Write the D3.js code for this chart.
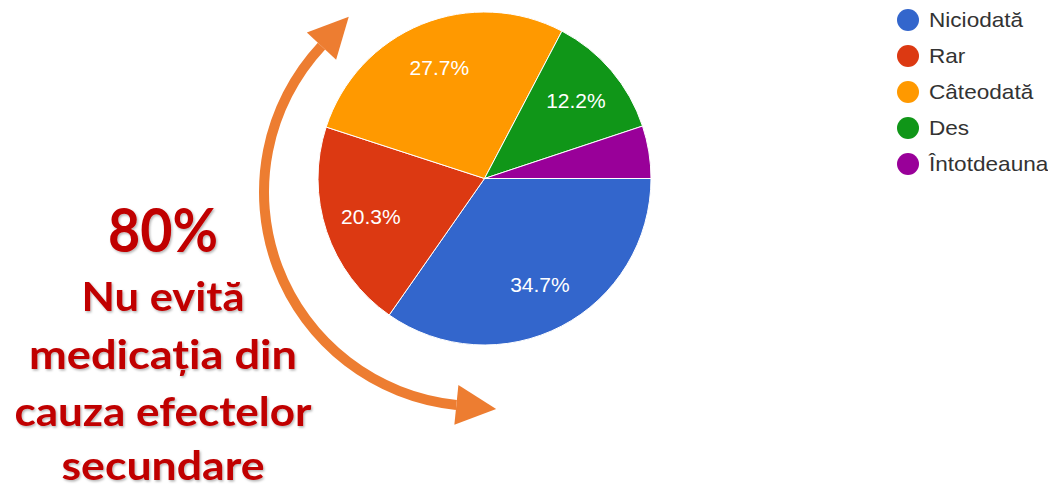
<!DOCTYPE html>
<html lang="ro">

<head>
    <meta charset="UTF-8" />
    <title>Evitarea medicației</title>
    <style>
        body {
            margin: 0;
            background: #fff;
        }

        #container {
            width: 1048px;
            height: 488px;
        }
    </style>
</head>

<body>
    <div id="container"></div>
</body>
<script src="https://cdnjs.cloudflare.com/ajax/libs/d3/7.8.5/d3.min.js"></script>
<script>
    // date
    const categories = ["Niciodată", "Rar", "Câteodată", "Des", "Întotdeauna"];
    const values = [34.7, 20.3, 27.7, 12.2, 5.1];
    const colors = ["#3366cc", "#dc3912", "#ff9900", "#109618", "#990099"];
    const calloutLines = ["80%", "Nu evită", "medicația din", "cauza efectelor", "secundare"];

    const width = 1048, height = 488;
    const cx = 484.5, cy = 178.5, radius = 166.5;

    let svg = d3.select("#container").append("svg")
        .attr("width", width).attr("height", height);

    let defs = svg.append("defs");
    defs.append("filter").attr("id", "shadow")
        .attr("x", "-10%").attr("y", "-10%").attr("width", "120%").attr("height", "130%")
        .append("feDropShadow")
        .attr("dx", 1.2).attr("dy", 1.5).attr("stdDeviation", 1.2)
        .attr("flood-color", "#000").attr("flood-opacity", 0.3);

    let color = d3.scaleOrdinal().domain(categories).range(colors);

    // pie: starts at 3 o'clock, clockwise
    let pie = d3.pie().sort(null)
        .value((d, i) => values[i])
        .startAngle(Math.PI / 2).endAngle(Math.PI / 2 + 2 * Math.PI);
    let arcs = pie(categories);

    let arc = d3.arc().innerRadius(0).outerRadius(radius);
    let labelArc = d3.arc().innerRadius(radius * 0.72).outerRadius(radius * 0.72);

    let g = svg.append("g").attr("transform", `translate(${cx},${cy})`);
    g.selectAll("path").data(arcs).enter().append("path")
        .attr("d", arc)
        .attr("fill", d => color(d.data))
        .attr("stroke", "#fff").attr("stroke-width", 1);

    g.selectAll("text").data(arcs.filter(d => d.value > 8)).enter().append("text")
        .attr("transform", d => `translate(${labelArc.centroid(d)}) scale(1.05,1)`)
        .attr("text-anchor", "middle").attr("dy", "0.36em")
        .style("font-family", "Arial, 'Liberation Sans', sans-serif")
        .style("font-size", "20px").attr("fill", "#fff")
        .text(d => d3.format(".1f")(d.value) + "%");

    // legend
    let legend = svg.append("g").attr("transform", "translate(908,20)");
    let item = legend.selectAll("g").data(categories).enter().append("g")
        .attr("transform", (d, i) => `translate(0,${i * 36})`);
    item.append("circle").attr("r", 11).attr("fill", d => color(d));
    item.append("text").attr("transform", "translate(21,0) scale(1.13,1)").attr("dy", "0.36em")
        .style("font-family", "Arial, 'Liberation Sans', sans-serif")
        .style("font-size", "20px").attr("fill", "#333")
        .text(d => d);

    // orange double arrow around the pie
    const ac = [478, 192], ar = 214;
    const a0 = 185.8 * Math.PI / 180, a1 = 313 * Math.PI / 180;
    svg.append("path")
        .attr("transform", `translate(${ac})`)
        .attr("d", d3.arc().innerRadius(ar - 5).outerRadius(ar + 5).startAngle(a0).endAngle(a1)())
        .attr("fill", "#ed7d31");

    function head(angle, dir) {
        // base centre on the arc, tangent direction
        let bx = ac[0] + ar * Math.sin(angle), by = ac[1] - ar * Math.cos(angle);
        let tx = dir * Math.cos(angle), ty = dir * Math.sin(angle);
        let len = 40, half = 20;
        return [[bx + tx * len, by + ty * len],
                [bx - ty * half, by + tx * half],
                [bx + ty * half, by - tx * half]];
    }
    svg.selectAll("polygon.head").data([head(a1, 1), head(a0, -1)]).enter().append("polygon")
        .attr("class", "head")
        .attr("points", d => d.map(p => p.join(",")).join(" "))
        .attr("fill", "#ed7d31");

    // callout text (wide, like the original slide)
    let lineY = [252, 311, 369, 426, 480];
    let lineW = [110, 163, 268, 297, 203];
    svg.append("g").attr("filter", "url(#shadow)")
        .selectAll("text").data(calloutLines).enter().append("text")
        .attr("x", 163).attr("y", (d, i) => lineY[i])
        .attr("text-anchor", "middle")
        .attr("textLength", (d, i) => lineW[i])
        .attr("lengthAdjust", "spacingAndGlyphs")
        .style("font-family", "Lato, 'Open Sans', sans-serif")
        .style("font-weight", "bold")
        .style("font-size", (d, i) => i === 0 ? "61px" : "40px")
        .attr("fill", "#c00000")
        .text(d => d);
</script>

</html>
